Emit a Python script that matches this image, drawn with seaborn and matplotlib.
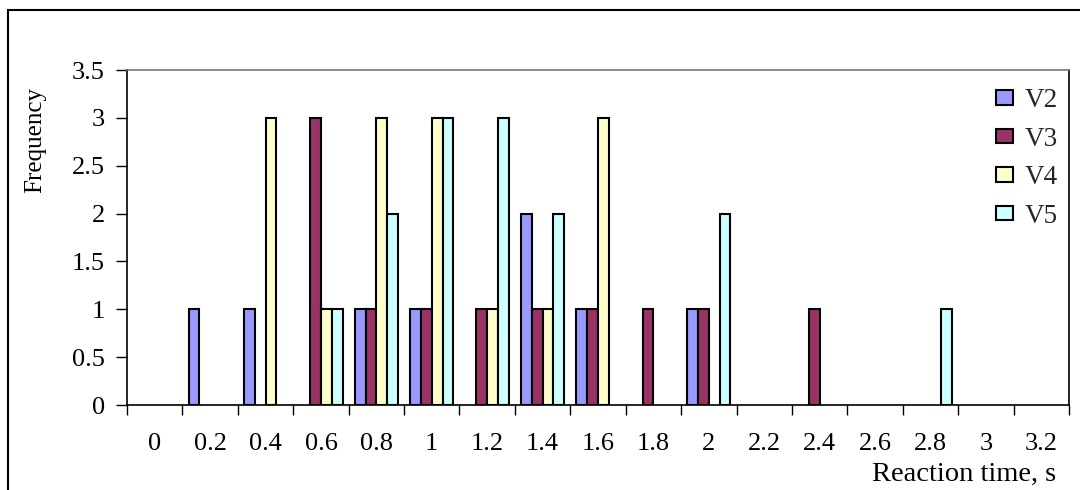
import matplotlib
matplotlib.use("Agg")
import matplotlib.pyplot as plt
import seaborn as sns
import pandas as pd
from matplotlib.patches import Rectangle

# Reaction-time bins and counts per volunteer
categories = ["0", "0.2", "0.4", "0.6", "0.8", "1", "1.2", "1.4", "1.6",
              "1.8", "2", "2.2", "2.4", "2.6", "2.8", "3", "3.2"]
v2 = [0, 1, 1, 0, 1, 1, 0, 2, 1, 0, 1, 0, 0, 0, 0, 0, 0]
v3 = [0, 0, 0, 3, 1, 1, 1, 1, 1, 1, 1, 0, 1, 0, 0, 0, 0]
v4 = [0, 0, 3, 1, 3, 3, 1, 1, 3, 0, 0, 0, 0, 0, 0, 0, 0]
v5 = [0, 0, 0, 1, 2, 3, 3, 2, 0, 0, 2, 0, 0, 0, 1, 0, 0]
series_names = ["V2", "V3", "V4", "V5"]
colors = ["#9999FF", "#993366", "#FFFFCC", "#CCFFFF"]

rows = []
for name, vals in zip(series_names, [v2, v3, v4, v5]):
    for cat, val in zip(categories, vals):
        rows.append({"time": cat, "series": name, "freq": val})
df = pd.DataFrame(rows)
# empty bins draw nothing (avoids flat outlines sitting on the axis)
df_bars = df[df["freq"] > 0]

sns.set_theme(style="white")
plt.rcParams["font.family"] = ["Liberation Serif", "DejaVu Serif"]

W, H = 1080, 490
fig = plt.figure(figsize=(W / 100, H / 100), dpi=100)
ax = fig.add_axes([127 / W, 1 - 405 / H, (1069 - 127) / W, (405 - 70) / H])

sns.barplot(data=df_bars, x="time", y="freq", hue="series", order=categories,
            hue_order=series_names, palette=colors, width=0.78,
            edgecolor="black", linewidth=1.5, saturation=1, ax=ax, legend=True)

ax.set_xlim(-0.5, len(categories) - 0.5)
ax.set_ylim(0, 3.5)
ax.set_yticks([0, 0.5, 1, 1.5, 2, 2.5, 3, 3.5])
ax.set_yticklabels(["0", "0.5", "1", "1.5", "2", "2.5", "3", "3.5"])

# category labels centred in each slot, tick marks on the slot boundaries
ax.set_xticks(range(len(categories)))
ax.set_xticklabels(categories)
ax.set_xticks([i - 0.5 for i in range(len(categories) + 1)], minor=True)
ax.tick_params(axis="x", which="major", length=0, pad=20, labelsize=19, colors="black")
ax.tick_params(axis="x", which="minor", length=7, width=1, direction="out", color="black", bottom=True)
ax.tick_params(axis="y", which="major", length=8, width=1, direction="out", left=True,
               labelsize=19, pad=8, colors="black")

for side in ["left", "bottom", "right"]:
    ax.spines[side].set_color("black")
    ax.spines[side].set_linewidth(1.2)
ax.spines["top"].set_color("#777777")
ax.spines["top"].set_linewidth(1.2)
ax.grid(False)

ax.set_xlabel("")
ax.set_ylabel("")
fig.text(35 / W, 1 - 140 / H, "Frequency", rotation=90, ha="center", va="center",
         fontsize=18, color="black")
fig.text(1056 / W, 1 - 474 / H, "Reaction time, s", ha="right", va="center",
         fontsize=20.5, color="black")

leg = ax.legend(loc="upper right", bbox_to_anchor=(1058 / W, 1 - 88 / H),
                bbox_transform=fig.transFigure, frameon=False,
                fontsize=19.5, handlelength=0.6, handleheight=0.45,
                handletextpad=0.45, labelspacing=0.5, borderaxespad=0.0,
                borderpad=0.0)
for h in leg.legend_handles:
    h.set_edgecolor("black")
    h.set_linewidth(1.5)

# outer chart border
fig.patches.append(Rectangle((8 / W, -0.1), 1.2, 1 - 10 / H + 0.1, transform=fig.transFigure,
                             fill=False, edgecolor="black", linewidth=1.5))

fig.savefig("out.png", dpi=100)
